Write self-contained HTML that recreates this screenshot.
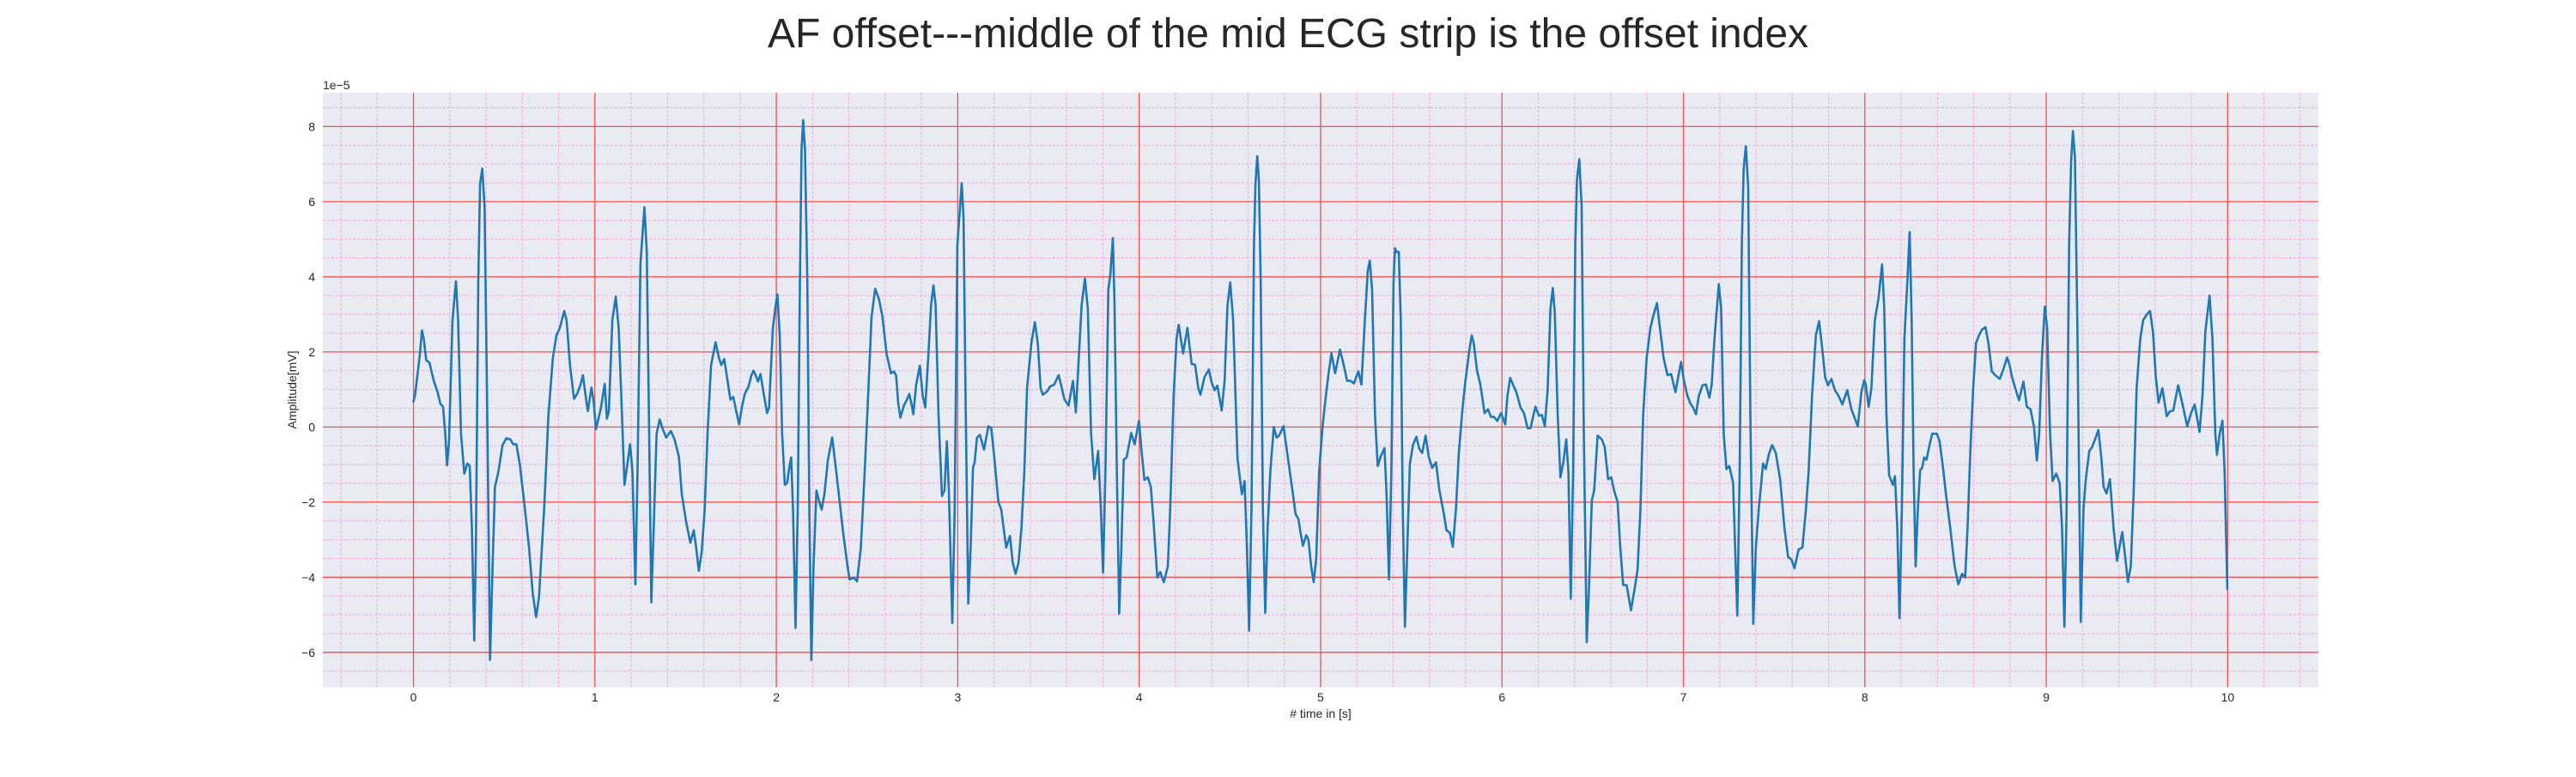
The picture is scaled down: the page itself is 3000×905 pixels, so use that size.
<!DOCTYPE html>
<html>
<head>
<meta charset="utf-8">
<style>
  html, body { margin:0; padding:0; background:#ffffff; }
  body { width:3000px; height:900px; overflow:hidden; }
  svg text { font-family: "Liberation Sans", "DejaVu Sans", sans-serif; fill:#262626; }
</style>
</head>
<body>
<svg id="chart" width="3000" height="900" viewBox="0 0 3000 900" xmlns="http://www.w3.org/2000/svg">
  <text x="1500" y="55" font-size="48" text-anchor="middle">AF offset---middle of the mid ECG strip is the offset index</text>
  <rect x="375.9" y="108" width="2324.1" height="692.5" fill="#eaeaf2"/>
  <g id="minor-grid"></g>
  <g id="major-grid"></g>
  <g id="x-ticks"></g>
  <g id="y-ticks"></g>
  <g id="series"></g>
  <text x="376" y="104" font-size="14">1e−5</text>
  <text x="1538" y="836" font-size="14" text-anchor="middle"># time in [s]</text>
  <text x="0" y="0" font-size="14" text-anchor="middle" transform="translate(345,454) rotate(-90)">Amplitude[mV]</text>
</svg>
<script>
// ---- data (values in units of 1e-5 mV) ----
const xTickLabels = [0,1,2,3,4,5,6,7,8,9,10];
const yTickLabels = [-6,-4,-2,0,2,4,6,8];
const times = [
0,0.0095,0.033,0.047,0.057,0.070,0.088,0.112,0.133,0.148,0.163,0.175,0.185,0.196,0.215,0.234,0.246,0.262,0.280,0.297,0.310,0.322,0.335,0.344,0.357,0.367,0.379,0.392,0.408,0.422,0.433,0.449,0.468,0.491,0.512,0.534,0.550,0.567,0.586,0.610,0.637,0.657,0.676,0.692,0.720,0.744,0.768,0.788,0.807,0.831,0.844,0.863,0.885,0.902,0.921,0.934,0.946,0.961,0.981,0.992,1.006,1.033,1.054,1.066,1.077,1.096,1.115,1.131,1.147,1.163,1.179,1.194,1.207,1.223,1.235,1.251,1.273,1.286,1.299,1.311,1.324,1.340,1.357,1.376,1.393,1.419,1.439,1.463,1.479,1.502,1.526,1.545,1.558,1.573,1.589,1.605,1.621,1.640,1.665,1.684,1.697,1.713,1.728,1.747,1.763,1.779,1.795,1.810,1.826,1.847,1.861,1.874,1.886,1.899,1.913,1.929,1.949,1.960,1.981,1.997,
2.006,2.019,2.032,2.047,2.060,2.071,2.082,2.092,2.106,2.118,2.130,2.139,2.148,2.158,2.171,2.182,2.193,2.205,2.221,2.237,2.250,2.265,2.284,2.308,2.328,2.347,2.368,2.387,2.403,2.427,2.445,2.466,2.487,2.506,2.525,2.545,2.566,2.585,2.608,2.632,2.648,2.660,2.672,2.684,2.703,2.720,2.733,2.744,2.755,2.771,2.791,2.807,2.821,2.837,2.853,2.866,2.878,2.894,2.913,2.927,2.940,2.951,2.970,2.983,2.998,3.013,3.022,3.032,3.043,3.058,3.071,3.084,3.093,3.106,3.122,3.145,3.169,3.185,3.201,3.224,3.240,3.253,3.267,3.288,3.303,3.319,3.335,3.351,3.367,3.382,3.406,3.425,3.441,3.457,3.469,3.493,3.509,3.532,3.556,3.569,3.588,3.611,3.635,3.651,3.667,3.683,3.701,3.717,3.735,3.753,3.774,3.789,3.801,3.814,3.830,3.841,3.855,3.864,3.877,3.890,3.902,3.915,3.931,3.956,3.975,3.999,
4.014,4.029,4.048,4.064,4.079,4.100,4.116,4.136,4.158,4.171,4.190,4.206,4.218,4.242,4.266,4.289,4.308,4.326,4.338,4.360,4.384,4.400,4.416,4.431,4.455,4.471,4.487,4.502,4.518,4.542,4.566,4.581,4.594,4.606,4.619,4.633,4.641,4.651,4.660,4.670,4.682,4.695,4.708,4.723,4.742,4.758,4.771,4.796,4.810,4.826,4.845,4.862,4.878,4.889,4.903,4.921,4.933,4.948,4.962,4.976,4.992,5.011,5.028,5.044,5.060,5.080,5.107,5.126,5.146,5.165,5.184,5.208,5.225,5.244,5.260,5.271,5.284,5.300,5.315,5.331,5.352,5.363,5.377,5.390,5.402,5.410,5.418,5.431,5.442,5.453,5.465,5.478,5.492,5.509,5.528,5.544,5.560,5.579,5.596,5.615,5.636,5.655,5.679,5.694,5.713,5.729,5.746,5.762,5.781,5.797,5.820,5.833,5.844,5.863,5.880,5.904,5.923,5.939,5.955,5.974,5.994,6.018,6.030,6.045,
6.065,6.079,6.102,6.121,6.141,6.157,6.184,6.204,6.220,6.236,6.252,6.267,6.280,6.291,6.307,6.322,6.338,6.354,6.366,6.379,6.392,6.404,6.413,6.426,6.439,6.451,6.467,6.480,6.495,6.508,6.527,6.550,6.566,6.585,6.602,6.618,6.637,6.652,6.668,6.687,6.711,6.731,6.747,6.763,6.778,6.797,6.818,6.833,6.854,6.873,6.891,6.912,6.932,6.956,6.975,6.987,7.003,7.022,7.038,7.053,7.069,7.085,7.105,7.124,7.143,7.156,7.171,7.195,7.208,7.222,7.237,7.253,7.274,7.285,7.297,7.310,7.322,7.332,7.344,7.357,7.369,7.385,7.399,7.415,7.439,7.454,7.470,7.489,7.509,7.533,7.557,7.577,7.596,7.612,7.635,7.656,7.675,7.690,7.709,7.730,7.748,7.766,7.781,7.797,7.816,7.835,7.855,7.876,7.903,7.926,7.961,7.981,7.997,
8.005,8.021,8.036,8.055,8.076,8.095,8.107,8.119,8.134,8.155,8.166,8.179,8.191,8.204,8.218,8.234,8.247,8.258,8.269,8.280,8.292,8.305,8.316,8.327,8.340,8.352,8.371,8.397,8.412,8.431,8.447,8.471,8.495,8.515,8.536,8.553,8.566,8.581,8.597,8.613,8.629,8.645,8.665,8.681,8.700,8.719,8.744,8.763,8.784,8.798,8.810,8.829,8.850,8.874,8.893,8.913,8.932,8.948,8.961,8.976,8.992,9.005,9.021,9.035,9.055,9.074,9.087,9.100,9.112,9.126,9.137,9.147,9.158,9.171,9.190,9.205,9.218,9.237,9.253,9.269,9.287,9.303,9.316,9.332,9.351,9.371,9.390,9.403,9.419,9.434,9.450,9.466,9.482,9.498,9.518,9.534,9.553,9.572,9.588,9.604,9.619,9.640,9.664,9.682,9.700,9.727,9.750,9.777,9.798,9.818,9.845,9.861,9.877,9.900,9.916,9.932,9.941,9.956,9.971,9.983,9.998
];
const amplitudes = [
0.68,0.88,1.83,2.57,2.34,1.78,1.71,1.23,0.93,0.62,0.54,-0.18,-1.02,-0.38,2.84,3.88,2.84,-0.18,-1.24,-0.97,-1.04,-2.70,-5.68,-3.21,3.85,6.47,6.88,5.87,-0.18,-6.20,-4.21,-1.59,-1.19,-0.48,-0.30,-0.33,-0.46,-0.46,-0.99,-2.0,-3.21,-4.42,-5.06,-4.52,-2.2,0.32,1.83,2.44,2.64,3.09,2.84,1.63,0.75,0.88,1.13,1.38,0.93,0.42,1.05,0.73,-0.06,0.50,1.15,0.22,0.42,2.84,3.47,2.64,0.63,-1.54,-0.99,-0.46,-1.19,-4.19,-1.19,4.35,5.85,4.66,-0.18,-4.67,-2.70,-0.18,0.20,-0.08,-0.28,-0.11,-0.33,-0.79,-1.79,-2.5,-3.08,-2.75,-3.21,-3.83,-3.31,-2.2,-0.18,1.63,2.26,1.83,1.65,1.81,1.33,0.73,0.80,0.42,0.07,0.52,0.88,1.08,1.35,1.50,1.38,1.21,1.41,0.93,0.37,0.52,2.64,3.25,
3.53,2.44,-0.18,-1.54,-1.49,-1.09,-0.81,-2.20,-5.35,-2.2,3.85,7.38,8.17,7.38,3.85,-2.2,-6.20,-3.71,-1.69,-2.0,-2.2,-1.79,-0.89,-0.28,-1.09,-1.90,-2.80,-3.51,-4.06,-4.01,-4.11,-3.21,-1.19,0.83,2.94,3.68,3.40,2.94,1.94,1.43,1.48,1.38,0.63,0.25,0.57,0.73,0.88,0.63,0.34,1.13,1.63,0.83,0.52,1.83,3.25,3.77,3.25,0.32,-1.84,-1.69,-0.38,-1.69,-5.22,-2.2,4.86,5.87,6.49,5.56,0.83,-4.70,-3.21,-1.09,-0.94,-0.28,-0.21,-0.60,0.02,-0.03,-0.79,-2.0,-2.2,-2.70,-3.21,-2.90,-3.61,-3.91,-3.61,-2.70,-1.19,1.03,2.24,2.79,2.24,1.03,0.86,0.95,1.08,1.13,1.38,1.13,0.73,0.57,1.23,0.39,1.83,3.25,3.95,3.15,-0.18,-1.39,-0.64,-2.2,-3.88,-1.19,3.65,4.05,5.03,3.35,-1.19,-4.97,-3.21,-0.87,-0.81,-0.16,-0.46,0.16,
-0.69,-1.41,-1.34,-1.59,-2.5,-4.01,-3.86,-4.13,-3.71,-2.2,0.83,2.34,2.72,1.96,2.64,1.68,1.66,1.03,0.86,1.33,1.53,1.18,0.98,1.10,0.44,1.23,3.25,3.85,2.84,-0.84,-1.79,-1.44,-3.21,-5.42,-2.2,4.86,6.47,7.21,6.57,3.85,-2.2,-4.95,-2.70,-1.19,0.0,-0.28,-0.23,0.02,-0.48,-1.04,-1.69,-2.32,-2.45,-2.80,-3.16,-2.88,-3.0,-3.71,-4.13,-3.51,-1.19,0.02,0.78,1.43,1.96,1.43,2.06,1.68,1.23,1.23,1.16,1.48,1.13,2.84,4.15,4.43,3.65,0.32,-1.04,-0.79,-0.56,-1.69,-4.06,-1.19,3.85,4.76,4.66,4.66,2.84,-2.2,-5.32,-3.21,-0.99,-0.48,-0.26,-0.58,-0.69,-0.23,-0.79,-1.09,-0.94,-1.69,-2.30,-2.75,-2.82,-3.19,-2.2,-0.69,0.42,1.18,2.04,2.44,2.24,1.48,1.15,0.37,0.47,0.27,0.27,0.16,0.37,0.07,0.83,1.31,
1.08,0.93,0.52,0.37,-0.03,-0.03,0.54,0.30,0.32,0.02,1.03,3.15,3.70,3.04,0.32,-1.34,-0.94,-0.33,-1.19,-4.57,-1.19,4.86,6.57,7.13,5.87,-0.18,-5.73,-4.21,-1.95,-1.69,-0.23,-0.33,-0.53,-1.39,-1.34,-1.69,-2.0,-3.21,-4.21,-4.21,-4.88,-4.31,-3.81,-2.2,0.32,1.83,2.64,2.94,3.30,2.54,1.83,1.38,1.41,0.93,1.43,1.73,1.23,0.83,0.63,0.52,0.34,0.83,1.11,1.13,0.78,1.13,2.34,3.80,3.15,-0.18,-1.12,-1.04,-1.49,-3.21,-5.02,-1.19,4.86,6.88,7.48,6.37,0.32,-5.24,-3.21,-2.2,-0.97,-1.12,-0.74,-0.48,-0.69,-1.39,-2.70,-3.46,-3.53,-3.76,-3.26,-3.21,-2.2,-1.19,0.83,2.44,2.82,2.04,1.33,1.11,1.28,0.98,0.83,0.60,0.98,0.47,0.02,0.93,1.25,
1.13,0.54,1.03,2.84,3.45,4.33,3.15,0.32,-1.29,-1.54,-1.31,-2.70,-5.09,-2.2,2.34,3.85,5.19,2.84,-1.19,-3.71,-2.2,-1.14,-1.09,-0.81,-0.87,-0.58,-0.18,-0.18,-0.38,-1.09,-1.79,-2.70,-3.71,-4.19,-3.91,-4.01,-2.70,-0.69,1.03,2.24,2.44,2.59,2.66,2.24,1.48,1.38,1.28,1.53,1.85,1.65,1.35,1.03,0.71,1.21,0.54,0.47,0.02,-0.89,-0.18,1.83,3.20,2.64,-0.18,-1.44,-1.24,-1.49,-2.70,-5.32,-2.2,4.86,7.08,7.88,7.18,2.84,-5.19,-2.2,-1.39,-0.64,-0.53,-0.33,-0.08,-0.79,-1.59,-1.77,-1.39,-2.70,-3.56,-3.21,-2.80,-3.41,-4.13,-3.71,-1.69,1.03,2.34,2.84,2.99,3.09,2.54,1.33,0.65,1.03,0.29,0.42,0.44,1.11,0.63,0.02,0.37,0.60,-0.13,0.83,2.54,3.50,2.34,-0.18,-0.74,-0.18,0.17,-1.19,-4.31
];

// ---- axes ----
const X0 = 375.9, X1 = 2700, Y0 = 108, Y1 = 800.5;
const xMin = -0.5, xMax = 10.5, yMin = -6.93, yMax = 8.9;
function xs(t){ return X0 + (t - xMin) / (xMax - xMin) * (X1 - X0); }
function ys(v){ return Y1 - (v - yMin) / (yMax - yMin) * (Y1 - Y0); }
const NS = 'http://www.w3.org/2000/svg';
function mk(tag, parent){ const e = document.createElementNS(NS, tag); parent.appendChild(e); return e; }

// minor grid
const minorG = document.getElementById('minor-grid');
for (let i = -2; i <= 52; i++) {
  const t = i * 0.2; if (t < xMin || t > xMax || i % 5 === 0) continue;
  const l = mk('line', minorG);
  
  
  l.setAttribute('x1', xs(t)); l.setAttribute('x2', xs(t)); l.setAttribute('y1', Y0); l.setAttribute('y2', Y1);
  l.setAttribute('stroke', '#f4a6dc'); l.setAttribute('stroke-width', '1'); l.setAttribute('stroke-dasharray', '3,2');
}
for (let i = -14; i <= 18; i++) {
  const v = i * 0.5; if (v < yMin || v > yMax || i % 4 === 0) continue;
  const l = mk('line', minorG);
  
  
  l.setAttribute('x1', X0); l.setAttribute('x2', X1); l.setAttribute('y1', ys(v)); l.setAttribute('y2', ys(v));
  l.setAttribute('stroke', '#f4a6dc'); l.setAttribute('stroke-width', '1'); l.setAttribute('stroke-dasharray', '3,2');
}
// major grid + ticks
const majorG = document.getElementById('major-grid');
const xT = document.getElementById('x-ticks');
const yT = document.getElementById('y-ticks');
xTickLabels.forEach(t => {
  const l = mk('line', majorG);
  
  
  l.setAttribute('x1', xs(t)); l.setAttribute('x2', xs(t)); l.setAttribute('y1', Y0); l.setAttribute('y2', Y1);
  l.setAttribute('stroke', '#f45050'); l.setAttribute('stroke-width', '1.3');
  const tx = mk('text', xT);
  
  
  tx.setAttribute('x', xs(t)); tx.setAttribute('y', 817); tx.setAttribute('font-size', '14'); tx.setAttribute('text-anchor', 'middle');
  tx.textContent = String(t);
});
yTickLabels.forEach(v => {
  const l = mk('line', majorG);
  
  
  l.setAttribute('x1', X0); l.setAttribute('x2', X1); l.setAttribute('y1', ys(v)); l.setAttribute('y2', ys(v));
  l.setAttribute('stroke', '#f45050'); l.setAttribute('stroke-width', '1.3');
  const tx = mk('text', yT);
  
  
  tx.setAttribute('x', 367); tx.setAttribute('y', ys(v) + 5); tx.setAttribute('font-size', '14'); tx.setAttribute('text-anchor', 'end');
  tx.textContent = v < 0 ? '−' + Math.abs(v) : String(v);
});
// series
const sg = document.getElementById('series');
const p = mk('path', sg);


let d = '';
for (let i = 0; i < times.length; i++) {
  d += (i ? 'L' : 'M') + xs(times[i]).toFixed(2) + ',' + ys(amplitudes[i]).toFixed(2);
}
p.setAttribute('d', d);
p.setAttribute('fill', 'none'); p.setAttribute('stroke', '#1f77b4'); p.setAttribute('stroke-width', '2.6');
p.setAttribute('stroke-linejoin', 'round'); p.setAttribute('stroke-linecap', 'round');
</script>
</body>
</html>
